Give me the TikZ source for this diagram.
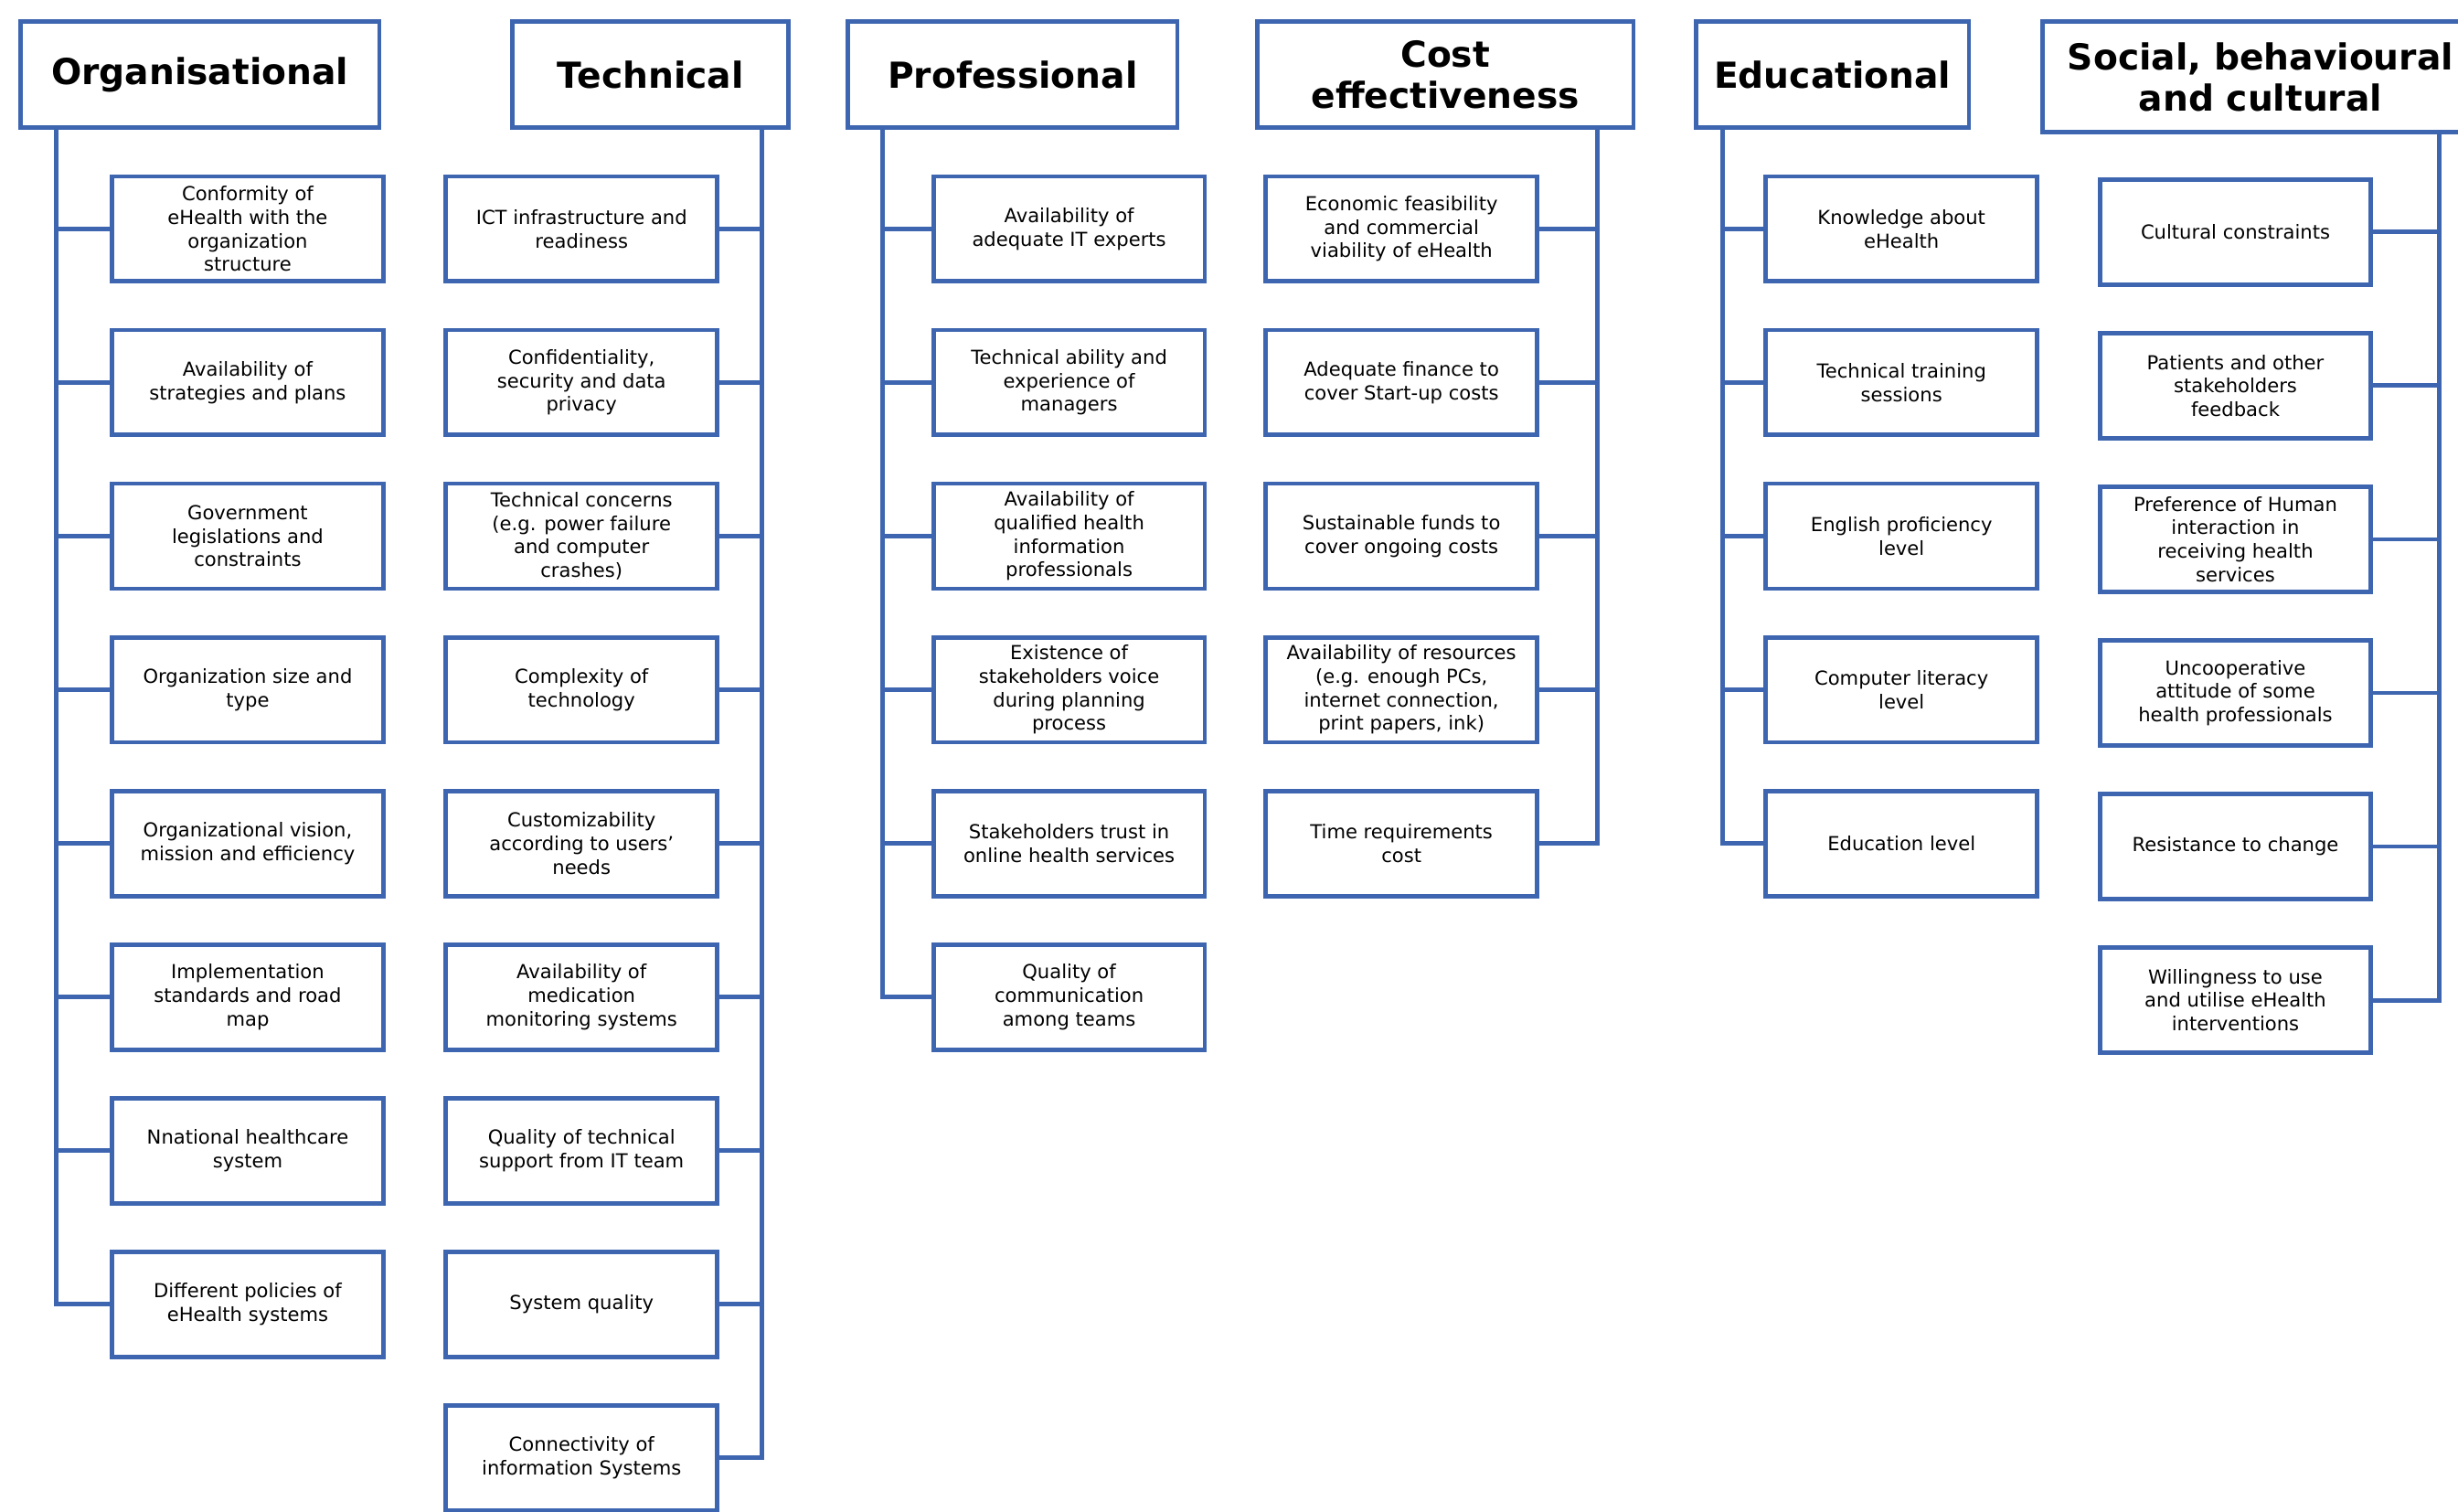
\documentclass[tikz,border=0pt]{standalone}
\usepackage{fontspec}
\setmainfont{DejaVu Sans}
\definecolor{lineblue}{RGB}{62,102,176}
\tikzset{
  head/.style={draw=lineblue, line width=1.6pt, minimum width=#1, minimum height=13.6mm,
    inner sep=0pt, align=center, font=\fontsize{13}{15}\selectfont\bfseries},
  head/.default=35mm,
  item/.style={draw=lineblue, line width=1.6pt, minimum width=34.6mm, minimum height=13.4mm,
    inner sep=1pt, align=center, font=\fontsize{7}{8.5}\selectfont},
  link/.style={draw=lineblue, line width=1.6pt}
}
\begin{document}
\begin{tikzpicture}[x=0.2mm, y=-0.2mm]
  \useasboundingbox (0,0) rectangle (1568,964);
  \clip (0,0) rectangle (1568,964);
  % headers
  \node[head=45.8mm] (org)  at (127.5,47.5) {Organisational};
  \node[head=35.2mm] (tech) at (415,47.5)   {Technical};
  \node[head=42mm]   (prof) at (646,47.5)   {Professional};
  \node[head=48mm]   (cost) at (922,47.5)   {Cost\\effectiveness};
  \node[head=34.8mm] (edu)  at (1169,47.5)  {Educational};
  \node[head=55.6mm, minimum height=14.2mm] (soc) at (1442,49) {Social, behavioural\\and cultural};
  % Organisational
  \node[item] (o1) at (158,146) {Conformity of\\eHealth with the\\organization\\structure};
  \node[item] (o2) at (158,244) {Availability of\\strategies and plans};
  \node[item] (o3) at (158,342) {Government\\legislations and\\constraints};
  \node[item] (o4) at (158,440) {Organization size and\\type};
  \node[item] (o5) at (158,538) {Organizational vision,\\mission and efficiency};
  \node[item] (o6) at (158,636) {Implementation\\standards and road\\map};
  \node[item] (o7) at (158,734) {Nnational healthcare\\system};
  \node[item] (o8) at (158,832) {Different policies of\\eHealth systems};
  % Technical
  \node[item] (t1) at (371,146) {ICT infrastructure and\\readiness};
  \node[item] (t2) at (371,244) {Confidentiality,\\security and data\\privacy};
  \node[item] (t3) at (371,342) {Technical concerns\\(e.g. power failure\\and computer\\crashes)};
  \node[item] (t4) at (371,440) {Complexity of\\technology};
  \node[item] (t5) at (371,538) {Customizability\\according to users'\\needs};
  \node[item] (t6) at (371,636) {Availability of\\medication\\monitoring systems};
  \node[item] (t7) at (371,734) {Quality of technical\\support from IT team};
  \node[item] (t8) at (371,832) {System quality};
  \node[item] (t9) at (371,930) {Connectivity of\\information Systems};
  % Professional
  \node[item] (p1) at (682,146) {Availability of\\adequate IT experts};
  \node[item] (p2) at (682,244) {Technical ability and\\experience of\\managers};
  \node[item] (p3) at (682,342) {Availability of\\qualified health\\information\\professionals};
  \node[item] (p4) at (682,440) {Existence of\\stakeholders voice\\during planning\\process};
  \node[item] (p5) at (682,538) {Stakeholders trust in\\online health services};
  \node[item] (p6) at (682,636) {Quality of\\communication\\among teams};
  % Cost effectiveness
  \node[item] (c1) at (894,146) {Economic feasibility\\and commercial\\viability of eHealth};
  \node[item] (c2) at (894,244) {Adequate finance to\\cover Start-up costs};
  \node[item] (c3) at (894,342) {Sustainable funds to\\cover ongoing costs};
  \node[item] (c4) at (894,440) {Availability of resources\\(e.g. enough PCs,\\internet connection,\\print papers, ink)};
  \node[item] (c5) at (894,538) {Time requirements\\cost};
  % Educational
  \node[item] (e1) at (1213,146) {Knowledge about\\eHealth};
  \node[item] (e2) at (1213,244) {Technical training\\sessions};
  \node[item] (e3) at (1213,342) {English proficiency\\level};
  \node[item] (e4) at (1213,440) {Computer literacy\\level};
  \node[item] (e5) at (1213,538) {Education level};
  % Social, behavioural and cultural
  \node[item] (s1) at (1426,148) {Cultural constraints};
  \node[item] (s2) at (1426,246) {Patients and other\\stakeholders\\feedback};
  \node[item] (s3) at (1426,344) {Preference of Human\\interaction in\\receiving health\\services};
  \node[item] (s4) at (1426,442) {Uncooperative\\attitude of some\\health professionals};
  \node[item] (s5) at (1426,540) {Resistance to change};
  \node[item] (s6) at (1426,638) {Willingness to use\\and utilise eHealth\\interventions};
  % spines
  \coordinate (otop) at (36,81);
  \coordinate (ttop) at (486,81);
  \coordinate (ptop) at (563,81);
  \coordinate (ctop) at (1019,81);
  \coordinate (etop) at (1099,81);
  \coordinate (stop) at (1556,84);
  \draw[link] (otop) |- (o8.west);
  \foreach \i in {1,...,7} \draw[link] (o\i.west) -- (o\i.west -| otop);
  \draw[link] (ttop) |- (t9.east);
  \foreach \i in {1,...,8} \draw[link] (t\i.east) -- (t\i.east -| ttop);
  \draw[link] (ptop) |- (p6.west);
  \foreach \i in {1,...,5} \draw[link] (p\i.west) -- (p\i.west -| ptop);
  \draw[link] (ctop) |- (c5.east);
  \foreach \i in {1,...,4} \draw[link] (c\i.east) -- (c\i.east -| ctop);
  \draw[link] (etop) |- (e5.west);
  \foreach \i in {1,...,4} \draw[link] (e\i.west) -- (e\i.west -| etop);
  \draw[link] (stop) |- (s6.east);
  \foreach \i in {1,...,5} \draw[link] (s\i.east) -- (s\i.east -| stop);
\end{tikzpicture}
\end{document}
